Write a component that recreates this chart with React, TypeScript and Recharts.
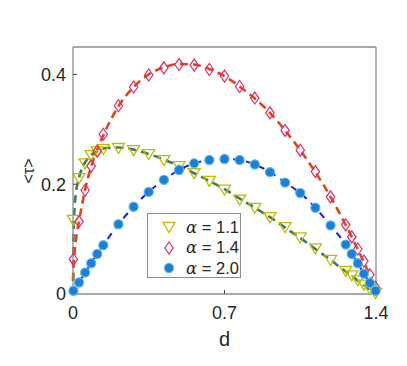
import React from 'react';
import {
  ComposedChart,
  Scatter,
  Line,
  XAxis,
  YAxis,
  Label,
} from 'recharts';

// sample positions of the simulated points
const markerX = [
  0.002, 0.028, 0.056, 0.084, 0.112, 0.14, 0.21, 0.28, 0.35, 0.42, 0.49, 0.56, 0.63, 0.7,
  0.77, 0.84, 0.91, 0.98, 1.05, 1.12, 1.19, 1.26, 1.288, 1.316, 1.344, 1.372, 1.398,
];

// simulation, alpha = 1.1 / 1.4 / 2.0
const simA11 = [
  0.135, 0.211, 0.238, 0.253, 0.26, 0.264, 0.266, 0.262, 0.255, 0.244, 0.233, 0.22, 0.206, 0.19,
  0.172, 0.157, 0.14, 0.122, 0.103, 0.083, 0.062, 0.042, 0.034, 0.025, 0.017, 0.009, 0.002,
];
const simA14 = [
  0.063, 0.132, 0.189, 0.233, 0.26, 0.291, 0.343, 0.377, 0.399, 0.412, 0.418, 0.417, 0.409, 0.397,
  0.378, 0.357, 0.33, 0.298, 0.262, 0.223, 0.177, 0.126, 0.104, 0.082, 0.06, 0.035, 0.012,
];
const simA20 = [
  0.006, 0.021, 0.039, 0.056, 0.073, 0.089, 0.127, 0.159, 0.186, 0.208, 0.226, 0.238, 0.244, 0.246,
  0.244, 0.236, 0.222, 0.203, 0.184, 0.157, 0.125, 0.09, 0.073, 0.056, 0.037, 0.02, 0.006,
];

// theory curves (dashed)
const curveX = [
  0, 0.002, 0.006, 0.014, 0.028, 0.056, 0.084, 0.112, 0.14, 0.21, 0.28, 0.35, 0.42, 0.49, 0.56,
  0.63, 0.7, 0.77, 0.84, 0.91, 0.98, 1.05, 1.12, 1.19, 1.26, 1.288, 1.316, 1.344, 1.372, 1.4,
];
const theoryA11 = [
  0, 0.1, 0.15, 0.185, 0.212, 0.24, 0.253, 0.261, 0.265, 0.267, 0.263, 0.255, 0.245, 0.233, 0.22,
  0.206, 0.191, 0.174, 0.157, 0.14, 0.121, 0.102, 0.082, 0.062, 0.041, 0.033, 0.024, 0.016, 0.008, 0,
];
const theoryA14 = [
  0, 0.045, 0.07, 0.1, 0.133, 0.19, 0.232, 0.263, 0.289, 0.342, 0.377, 0.4, 0.413, 0.419, 0.418,
  0.41, 0.397, 0.378, 0.356, 0.33, 0.298, 0.262, 0.222, 0.177, 0.126, 0.104, 0.081, 0.058, 0.033, 0,
];
const theoryA20 = [
  0, 0.002, 0.005, 0.011, 0.021, 0.039, 0.056, 0.073, 0.089, 0.127, 0.159, 0.186, 0.208, 0.226, 0.238,
  0.244, 0.246, 0.244, 0.236, 0.222, 0.203, 0.184, 0.157, 0.125, 0.09, 0.073, 0.056, 0.037, 0.02, 0,
];

const legendLabels = ['1.1', '1.4', '2.0'];
const xTicks = [0, 0.7, 1.4];
const yTicks = [0, 0.2, 0.4];

const TRI = '#bdbd00';
const DIA = '#e0287a';
const DOT = '#1b7fd4';
const DOT_EDGE = '#62bbea';
const AXIS = '#8c8c8c';
const FONT = '"Liberation Sans", Arial, sans-serif';

const toPoints = (xs: number[], ys: number[]) => xs.map((x, i) => ({ x, y: ys[i] }));

const TriangleDown = ({ cx, cy }: any) => (
  <polygon
    points={`${cx - 6},${cy - 4.5} ${cx + 6},${cy - 4.5} ${cx},${cy + 5.5}`}
    fill="none"
    stroke={TRI}
    strokeWidth={1.3}
  />
);

const Diamond = ({ cx, cy }: any) => (
  <polygon
    points={`${cx},${cy - 6} ${cx + 4.2},${cy} ${cx},${cy + 6} ${cx - 4.2},${cy}`}
    fill="none"
    stroke={DIA}
    strokeWidth={1.2}
  />
);

const Dot = ({ cx, cy }: any) => (
  <circle cx={cx} cy={cy} r={4.6} fill={DOT} stroke={DOT_EDGE} strokeWidth={1.2} />
);

const legendShapes = [TriangleDown, Diamond, Dot];

const App: React.FC = () => {
  const pA11 = toPoints(markerX, simA11);
  const pA14 = toPoints(markerX, simA14);
  const pA20 = toPoints(markerX, simA20);
  const tA11 = toPoints(curveX, theoryA11);
  const tA14 = toPoints(curveX, theoryA14);
  const tA20 = toPoints(curveX, theoryA20);

  return (
    <div style={{ position: 'absolute', left: 0, top: 0, width: 407, height: 366, background: '#fff' }}>
      <ComposedChart
        width={407}
        height={366}
        margin={{ top: 46, right: 30, bottom: 42, left: 23 }}
      >
        <XAxis
          xAxisId="b"
          dataKey="x"
          type="number"
          domain={[0, 1.4]}
          ticks={xTicks}
          height={30}
          axisLine={{ stroke: AXIS, strokeWidth: 1.3 }}
          tickLine={{ stroke: '#444' }}
          tickSize={-4}
          tickMargin={16}
          tick={{ fill: '#262626', fontSize: 18, fontFamily: FONT }}
        >
          <Label
            content={({ viewBox }: any) => (
              <text
                x={viewBox.x + viewBox.width / 2}
                y={viewBox.y + 52}
                textAnchor="middle"
                fill="#262626"
                fontSize={20}
                fontFamily={FONT}
              >
                d
              </text>
            )}
          />
        </XAxis>
        <XAxis
          xAxisId="t"
          dataKey="x"
          type="number"
          orientation="top"
          domain={[0, 1.4]}
          ticks={xTicks}
          height={1}
          axisLine={{ stroke: AXIS, strokeWidth: 1.3 }}
          tickLine={{ stroke: '#444' }}
          tickSize={-4}
          tick={false}
        />
        <YAxis
          yAxisId="l"
          type="number"
          domain={[0, 0.45]}
          ticks={yTicks}
          width={50}
          axisLine={{ stroke: AXIS, strokeWidth: 1.3 }}
          tickLine={{ stroke: '#444' }}
          tickSize={-4}
          tickMargin={11}
          tick={{ fill: '#262626', fontSize: 18, fontFamily: FONT }}
        >
          <Label
            content={({ viewBox }: any) => {
              const cx = viewBox.x + 5;
              const cy = 171;
              return (
                <text
                  x={cx}
                  y={cy}
                  transform={`rotate(-90 ${cx} ${cy})`}
                  textAnchor="middle"
                  dominantBaseline="central"
                  fill="#262626"
                  fontSize={16}
                  fontFamily={FONT}
                >
                  {'<τ>'}
                </text>
              );
            }}
          />
        </YAxis>
        <YAxis
          yAxisId="r"
          type="number"
          orientation="right"
          domain={[0, 0.45]}
          ticks={yTicks}
          width={1}
          axisLine={{ stroke: AXIS, strokeWidth: 1.3 }}
          tickLine={{ stroke: '#444' }}
          tickSize={-4}
          tick={false}
        />

        <Scatter
          xAxisId="b"
          yAxisId="l"
          data={pA11}
          dataKey="y"
          shape={<TriangleDown />}
          isAnimationActive={false}
        />
        <Scatter
          xAxisId="b"
          yAxisId="l"
          data={pA14}
          dataKey="y"
          shape={<Diamond />}
          isAnimationActive={false}
        />
        <Scatter
          xAxisId="b"
          yAxisId="l"
          data={pA20}
          dataKey="y"
          shape={<Dot />}
          isAnimationActive={false}
        />

        <Line
          xAxisId="b"
          yAxisId="l"
          data={tA11}
          dataKey="y"
          type="monotone"
          stroke="#3e7a5e"
          strokeWidth={2.6}
          strokeDasharray="8 5"
          dot={false}
          activeDot={false}
          isAnimationActive={false}
        />
        <Line
          xAxisId="b"
          yAxisId="l"
          data={tA14}
          dataKey="y"
          type="monotone"
          stroke="#e0461a"
          strokeWidth={2.6}
          strokeDasharray="8 5"
          dot={false}
          activeDot={false}
          isAnimationActive={false}
        />
        <Line
          xAxisId="b"
          yAxisId="l"
          data={tA20}
          dataKey="y"
          type="monotone"
          stroke="#1a1aff"
          strokeWidth={2}
          strokeDasharray="7 6"
          dot={false}
          activeDot={false}
          isAnimationActive={false}
        />
      </ComposedChart>

      {/* legend box */}
      <div
        style={{
          position: 'absolute',
          left: 147,
          top: 213,
          width: 94,
          height: 65,
          border: `1.3px solid ${AXIS}`,
          background: '#fff',
          boxSizing: 'border-box',
          fontFamily: FONT,
          color: '#262626',
        }}
      >
        {legendLabels.map((lab, i) => {
          const Shape = legendShapes[i];
          return (
            <div
              key={lab}
              style={{ position: 'absolute', left: 0, top: 3 + i * 20.7, height: 20, width: 94, display: 'flex', alignItems: 'center' }}
            >
              <svg width={30} height={20} style={{ display: 'block' }}>
                <Shape cx={21} cy={10} />
              </svg>
              <span style={{ marginLeft: 8, fontSize: 16.5, whiteSpace: 'nowrap' }}>
                <span style={{ fontFamily: '"DejaVu Serif", serif', fontStyle: 'italic' }}>α</span>
                {' = '}
                {lab}
              </span>
            </div>
          );
        })}
      </div>
    </div>
  );
};

export default App;
